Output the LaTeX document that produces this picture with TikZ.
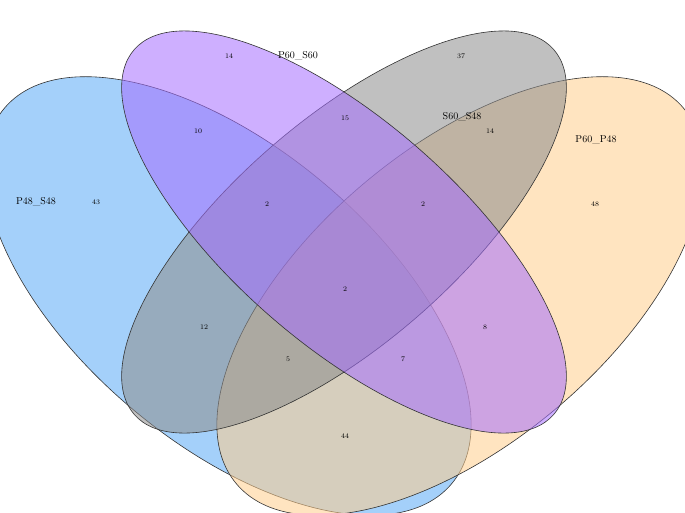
\documentclass[tikz,border=0pt]{standalone}
\usepackage{tikz}
\definecolor{setBlue}{RGB}{90,170,245}
\definecolor{setOrange}{RGB}{255,205,140}
\definecolor{setGrey}{RGB}{140,140,140}
\definecolor{setPurple}{RGB}{165,110,255}
\begin{document}
\begin{tikzpicture}[
  x=1pt, y=-1pt,
  every set/.style={draw=black!80, line width=0.6pt, fill opacity=0.55},
  setlabel/.style={font=\normalsize, inner sep=0pt},
  count/.style={font=\scriptsize, inner sep=0pt}
]
\useasboundingbox (0,0) rectangle (685,512);
% the four sets
\path[every set, fill=setBlue, rotate around={-40:(228,296)}]   (228,296) ellipse (292pt and 148pt);
\path[every set, fill=setOrange, rotate around={40:(460,296)}]  (460,296) ellipse (292pt and 148pt);
\path[every set, fill=setGrey, rotate around={41:(344,232)}]    (344,232) ellipse (278pt and 112pt);
\path[every set, fill=setPurple, rotate around={-41:(344,232)}] (344,232) ellipse (278pt and 112pt);
% set names
\node[setlabel] (pss) at (36,202)  {P48\_S48};
\node[setlabel] (pso) at (298,56)  {P60\_S60};
\node[setlabel] (sss) at (462,117) {S60\_S48};
\node[setlabel] (ppp) at (596,140) {P60\_P48};
% region counts
\foreach \name/\x/\y/\n in {a/96/202/43, b/229/56/14, c/461/56/37, d/595/204/48,
  e/198/131/10, f/345/118/15, g/490/131/14, h/267/204/2, i/423/204/2,
  j/204/327/12, k/345/289/2, l/485/327/8, m/288/359/5, n/403/359/7, o/345/436/44}
  \node[count] (c\name) at (\x,\y) {\n};
\end{tikzpicture}
\end{document}
